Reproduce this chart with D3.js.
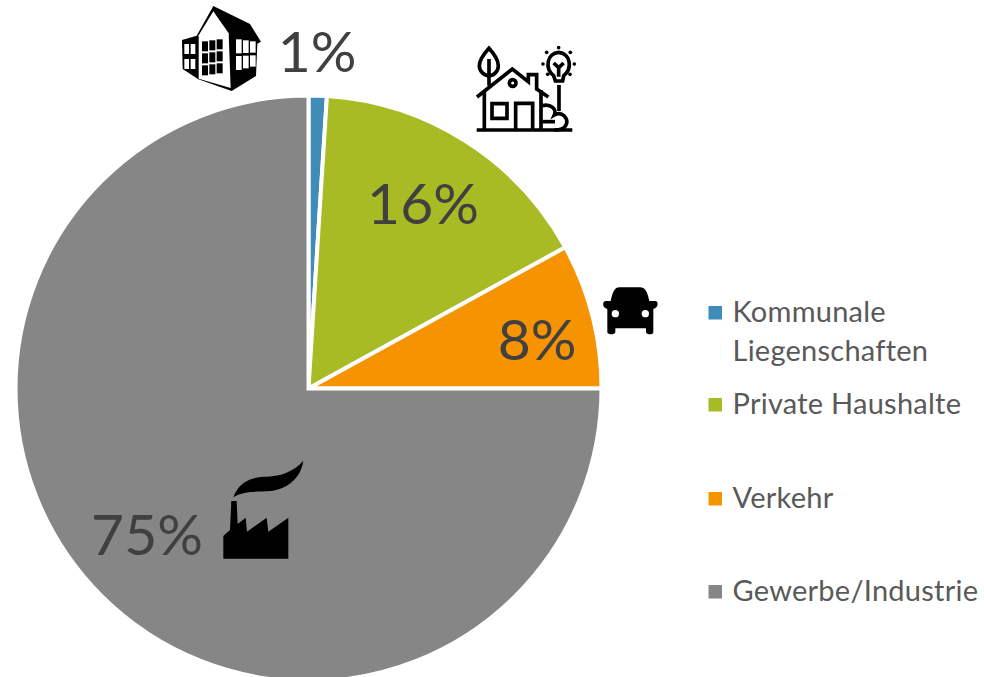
<!DOCTYPE html>
<html>
<head>
<meta charset="utf-8">
<script src="https://cdn.jsdelivr.net/npm/d3@7"></script>
<style>
  html, body { margin: 0; padding: 0; background: #fff; overflow: hidden; }
  svg { display: block; font-family: Lato, "Open Sans", sans-serif; }
</style>
</head>
<body>
<div id="chart"></div>
<script>
const categories = [["Kommunale", "Liegenschaften"], ["Private Haushalte"], ["Verkehr"], ["Gewerbe/Industrie"]];
const values = [1, 16, 8, 75];
const valueLabels = ["1%", "16%", "8%", "75%"];
const colors = ["#3f8cb8", "#a8ba24", "#f59300", "#868686"];

const size = { width: 984, height: 677 };
const center = { x: 308.5, y: 388.5 };
const radius = 293;

const svg = d3
  .select("#chart")
  .append("svg")
  .attr("width", size.width)
  .attr("height", size.height);

const pie = d3.pie().sort(null)(values);
const arc = d3.arc().innerRadius(0).outerRadius(radius);

svg
  .append("g")
  .attr("transform", `translate(${center.x}, ${center.y})`)
  .selectAll("path")
  .data(pie)
  .enter()
  .append("path")
  .attr("d", arc)
  .attr("fill", (d, i) => colors[i])
  .attr("stroke", "#fff")
  .attr("stroke-width", 4)
  .attr("stroke-linejoin", "miter");

// label spots are placed by hand, same as in the original
const labelSpots = [
  { x: 317, y: 72 },
  { x: 423, y: 224 },
  { x: 537, y: 360 },
  { x: 147, y: 555 },
];

svg
  .append("g")
  .selectAll("text")
  .data(valueLabels)
  .enter()
  .append("text")
  .attr("x", (d, i) => labelSpots[i].x)
  .attr("y", (d, i) => labelSpots[i].y)
  .attr("text-anchor", "middle")
  .attr("fill", "#404040")
  .style("font-size", "57px")
  .text((d) => d);

// legend
const legendBoxY = [306, 398, 492, 585];
const legend = svg.append("g");
categories.forEach((lines, i) => {
  legend
    .append("rect")
    .attr("x", 708.5)
    .attr("y", legendBoxY[i])
    .attr("width", 13.5)
    .attr("height", 13.5)
    .attr("fill", colors[i]);
  lines.forEach((line, j) => {
    legend
      .append("text")
      .attr("x", 732.5)
      .attr("y", legendBoxY[i] + 15.5 + j * 39)
      .attr("fill", "#595959")
      .style("font-size", "29px")
      .style("letter-spacing", "0.25px")
      .text(line);
  });
});

// icons, drawn in the 3x crop space so they are easy to compare
const icons = svg.append("g");

const building = icons.append("g").attr("transform", "translate(170, 0) scale(0.3333)");
building
  .append("path")
  .attr("d", "M130,18 L240,72 L273,125 L262,131 L258,228 L185,273 L85,238 L38,207 L36,120 L80,107 Z")
  .attr("fill", "#000");
building
  .append("path")
  .attr("d", "M130,34 L176,100 L182,264 L86,236 L86,106 Z")
  .attr("fill", "#fff");
[0, 1, 2].forEach((r) => {
  [0, 1, 2].forEach((c) => {
    building
      .append("rect")
      .attr("x", 96 + c * 22)
      .attr("y", 124 + r * 36 + c * -3)
      .attr("width", 18)
      .attr("height", 30)
      .attr("fill", "#000");
  });
});
[0, 1, 2].forEach((c) => {
  [0, 1].forEach((r) => {
    building
      .append("rect")
      .attr("x", 198 + c * 21)
      .attr("y", 118 + c * 3 + r * 50 - c * r * 4)
      .attr("width", 17)
      .attr("height", 42 - c * 4)
      .attr("fill", "#fff");
  });
});
[0, 1].forEach((c) => {
  [0, 1].forEach((r) => {
    building
      .append("rect")
      .attr("x", 43 + c * 19)
      .attr("y", 132 + r * 45)
      .attr("width", 14)
      .attr("height", 30)
      .attr("fill", "#fff");
  });
});

const house = icons
  .append("g")
  .attr("transform", "translate(465, 35) scale(0.3333)")
  .attr("fill", "none")
  .attr("stroke", "#000")
  .attr("stroke-width", 11);
[
  "M72,40 C52,62 43,76 43,92 C43,110 58,122 72,122 C86,122 100,110 100,92 C100,76 92,62 72,40 Z",
  "M72,72 V152",
  "M36,186 L142,102 L190,140 V119 H215 V162 L250,186",
  "M58,170 V285 M228,165 V285 M35,285 H322",
  "M152,285 V205 H203 V285",
  "M81,206 H126 V250 H81 Z",
  "M232,212 C258,206 276,222 268,240 C292,226 312,252 303,270 C298,282 285,285 268,285",
  "M232,260 H270",
  "M282,150 V228",
  "M266,122 C238,100 246,54 281,52 C316,54 324,100 296,122 L293,138 H271 Z",
  "M281,125 V98 M266,84 L281,98 L296,84",
].forEach((d) => house.append("path").attr("d", d));
[[281, 38], [245, 52], [316, 52], [234, 87], [328, 87], [248, 118], [315, 118]].forEach(([x, y]) => {
  house.append("circle").attr("cx", x).attr("cy", y).attr("r", 5.5).attr("fill", "#000").attr("stroke", "none");
});
house.append("circle").attr("cx", 143).attr("cy", 144).attr("r", 10);

const car = icons.append("g").attr("transform", "translate(590, 275) scale(0.3333)");
car
  .append("path")
  .attr(
    "d",
    "M88,37 H150 C165,37 172,50 178,78 H196 C206,78 206,98 190,102 L190,172 C190,180 170,180 168,172 V160 H76 V172 C74,180 54,180 52,172 L52,102 C36,98 36,78 48,78 H62 C68,50 75,37 88,37 Z"
  )
  .attr("fill", "#000");
[76, 166].forEach((x) => {
  car.append("circle").attr("cx", x).attr("cy", 116).attr("r", 11).attr("fill", "#fff");
});

const factory = icons.append("g").attr("transform", "translate(210, 450) scale(0.3333)");
factory
  .append("path")
  .attr("d", "M70,142 C88,92 130,80 172,80 C212,78 250,66 280,32 C272,88 228,118 180,123 C140,127 105,120 70,142 Z")
  .attr("fill", "#000");
factory
  .append("path")
  .attr("d", "M64,153 H80 L83,222 L107,203 L111,245 L170,203 L175,245 L235,203 V326 H40 V258 L60,240 Z")
  .attr("fill", "#000");
</script>
</body>
</html>
